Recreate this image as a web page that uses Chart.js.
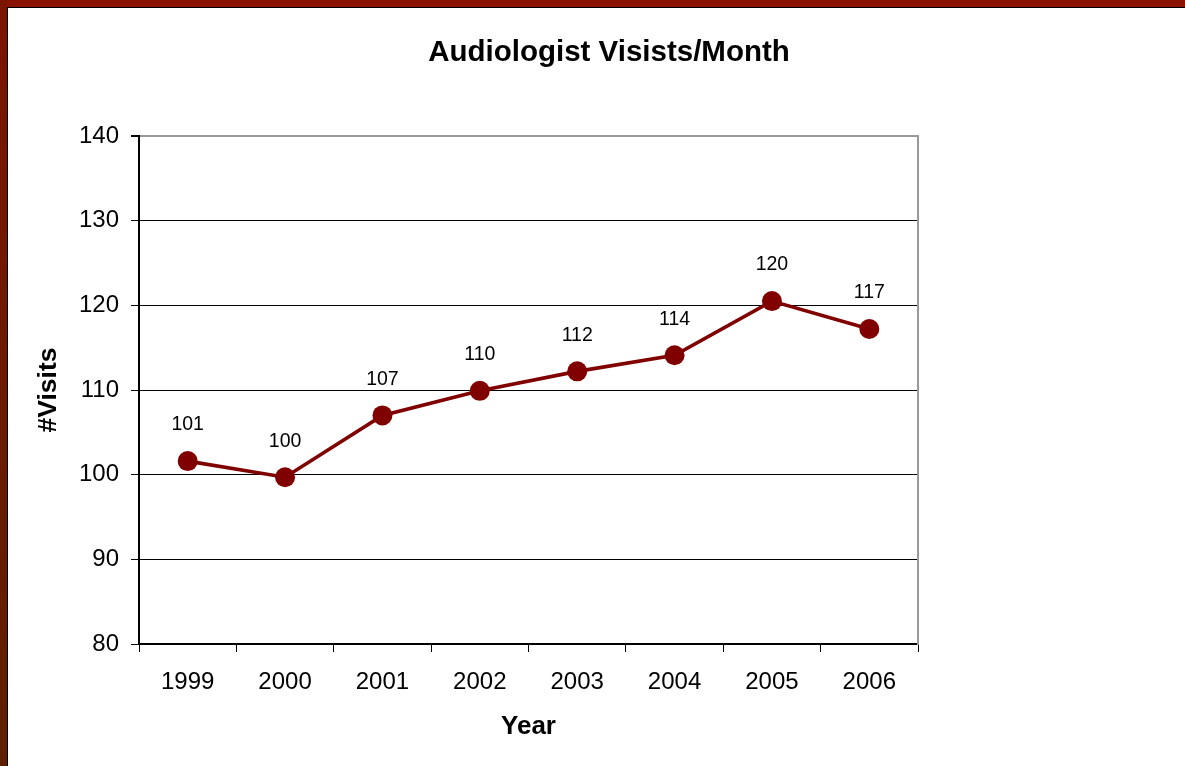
<!DOCTYPE html>
<html>
<head>
<meta charset="utf-8">
<title>Audiologist Visits/Month</title>
<script src="https://cdn.jsdelivr.net/npm/chart.js@4.4.0/dist/chart.umd.min.js"></script>
<style>
  html, body { margin: 0; padding: 0; background: #fff; }
  canvas { display: block; }
</style>
</head>
<body>
<canvas id="visits" width="1185" height="766"></canvas>
<script>
// values
const years = ['1999', '2000', '2001', '2002', '2003', '2004', '2005', '2006'];
const visits = [101.6, 99.7, 107.0, 109.9, 112.2, 114.1, 120.5, 117.2];
const pointLabels = ['101', '100', '107', '110', '112', '114', '120', '117'];
const yTicks = [80, 90, 100, 110, 120, 130, 140];

const FONT = "'Liberation Sans', Arial, sans-serif";
const MAROON = '#800000';

// dark red frame on top and left of the slide
const framePlugin = {
  id: 'frame',
  beforeDraw(chart) {
    let ctx = chart.ctx
    ctx.save()
    ctx.fillStyle = '#fff'
    ctx.fillRect(0, 0, chart.width, chart.height)
    ctx.fillStyle = '#8a1300'
    ctx.fillRect(0, 0, chart.width, 7)
    let g = ctx.createLinearGradient(0, 0, 0, chart.height)
    g.addColorStop(0, '#7a1600')
    g.addColorStop(1, '#5e2000')
    ctx.fillStyle = g
    ctx.fillRect(0, 0, 7, chart.height)
    ctx.fillStyle = '#000'
    ctx.fillRect(7, 7, chart.width - 7, 1)
    ctx.fillRect(7, 7, 1, chart.height - 7)
    ctx.restore()
  }
};

// numbers written above each point
const labelPlugin = {
  id: 'pointLabels',
  afterDatasetsDraw(chart) {
    let ctx = chart.ctx
    let meta = chart.getDatasetMeta(0)
    ctx.save()
    ctx.font = '19.5px ' + FONT
    ctx.fillStyle = '#000'
    ctx.textAlign = 'center'
    ctx.textBaseline = 'middle'
    meta.data.forEach((pt, i) => {
      ctx.fillText(pointLabels[i], pt.x, pt.y - 36)
    })
    ctx.restore()
  }
};

const data = {
  labels: years,
  datasets: [{
    label: '#Visits',
    data: visits,
    borderColor: MAROON,
    backgroundColor: MAROON,
    borderWidth: 3.6,
    pointRadius: 10,
    pointHoverRadius: 10,
    pointBorderWidth: 0,
    pointBackgroundColor: MAROON,
    tension: 0
  }]
};

const config = {
  type: 'line',
  data: data,
  options: {
    responsive: false,
    animation: false,
    devicePixelRatio: 1,
    layout: { padding: { left: 33, right: 0, top: 0, bottom: 0 } },
    plugins: {
      legend: { display: false },
      tooltip: { enabled: false },
      title: {
        display: true,
        text: 'Audiologist Visists/Month',
        color: '#000',
        font: { family: FONT, size: 29.5, weight: 'bold' },
        padding: { top: 35, bottom: 65.6 }
      }
    },
    scales: {
      x: {
        offset: true,
        grid: {
          offset: true,
          drawOnChartArea: false,
          drawTicks: true,
          tickLength: 8,
          color: '#000',
          lineWidth: 1
        },
        border: { display: true, color: '#000', width: 2 },
        ticks: {
          color: '#000',
          padding: 16,
          maxRotation: 0,
          font: { family: FONT, size: 24 }
        },
        title: {
          display: true,
          text: 'Year',
          color: '#000',
          font: { family: FONT, size: 26, weight: 'bold' },
          padding: { top: 24, bottom: 24 }
        },
        afterFit(s) { s.height = 122 }
      },
      y: {
        min: 80,
        max: 140,
        afterBuildTicks(s) { s.ticks = yTicks.map(v => ({ value: v })) },
        grid: {
          color: c => (c.tick && c.tick.value === 140) ? '#999' : '#000',
          lineWidth: c => (c.tick && c.tick.value === 140) ? 2 : 1,
          tickColor: '#000',
          tickLength: 8,
          drawTicks: true
        },
        border: { display: true, color: '#000', width: 2 },
        ticks: {
          color: '#000',
          padding: 12,
          font: { family: FONT, size: 24 }
        },
        title: {
          display: true,
          text: '#Visits',
          color: '#000',
          font: { family: FONT, size: 26.5, weight: 'bold' },
          padding: { top: 0, bottom: 0 }
        },
        afterFit(s) { s.width = 106 }
      },
      yR: {
        position: 'right',
        min: 0,
        max: 1,
        grid: { drawOnChartArea: false, drawTicks: false },
        ticks: { display: false },
        border: { display: true, color: '#999', width: 2 },
        afterFit(s) { s.width = 267 }
      }
    }
  },
  plugins: [framePlugin, labelPlugin]
};

let c = document.getElementById('visits').getContext('2d')
new Chart(c, config)
</script>
</body>
</html>
